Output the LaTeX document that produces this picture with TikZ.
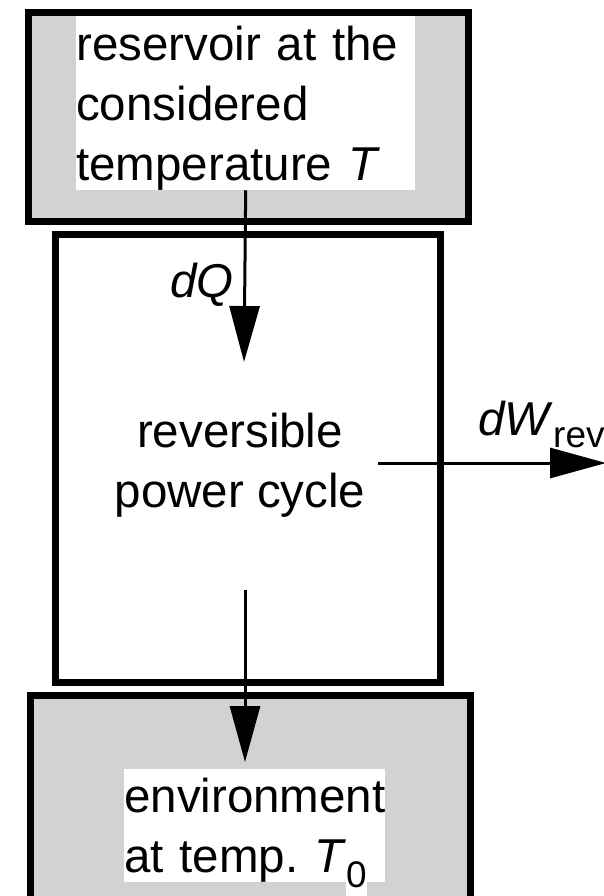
\documentclass[tikz,border=0pt]{standalone}
\usepackage{fontspec}
\setmainfont{Liberation Sans}
\usetikzlibrary{arrows.meta}
\definecolor{reservoirgray}{RGB}{210,210,210}
\setlength{\fboxsep}{0pt}
\frenchspacing
\newcommand{\subtext}[1]{{\fontsize{37}{37}\selectfont #1}}

\begin{document}
\begin{tikzpicture}[x=1pt,y=-1pt,
  every node/.style={inner sep=0pt,font=\fontsize{47.5}{60}\selectfont},
  reservoir/.style={draw,line width=7pt,fill=reservoirgray},
  cyclebox/.style={draw,line width=7pt,fill=white},
  textblock/.style={fill=white,align=left},
  flow/.style={line width=3pt,-{Triangle[length=56pt,width=30pt]}}]
\useasboundingbox (0,0) rectangle (604,896);
\node[reservoir,minimum width=440pt,minimum height=208pt,anchor=north west] (hot) at (24.5,9.5) {};
\node[textblock,text width=339pt,anchor=north west] (hottext) at (76,16)
  {\rule{0pt}{44pt}reservoir at the\\considered\\temperature \textit{T}};
\node[cyclebox,minimum width=385pt,minimum height=448pt,anchor=north west] (cycle) at (51.5,230.5) {};
\node[reservoir,minimum width=440pt,minimum height=230pt,anchor=north west] (cold) at (26.5,691.5) {};
\node[textblock,text width=261pt,anchor=north west] (coldtext) at (124,769)
  {\rule{0pt}{43pt}environment\\at temp. \textit{T}\raisebox{-15pt}[0pt][0pt]{\colorbox{white}{\subtext{0}\rule[-9pt]{0pt}{9pt}}}};
\node[align=center,anchor=north] (cycletext) at (240,403) {\rule{0pt}{44pt}reversible\\power cycle};
\node[anchor=base west] (dq) at (170,297) {\textit{dQ}};
\node[anchor=base west] (dw) at (478,435) {\textit{dW}\raisebox{-12pt}{\subtext{rev}}};
\coordinate (qend) at (244,362);
\coordinate (wstart) at (378,463);
\coordinate (wend) at (606,463);
\coordinate (rejstart) at (245,590);
\coordinate (rejend) at (245,762);
\draw[flow] (hottext.south) -- (qend);
\draw[flow] (wstart) -- (wend);
\draw[flow] (rejstart) -- (rejend);
\end{tikzpicture}
\end{document}
